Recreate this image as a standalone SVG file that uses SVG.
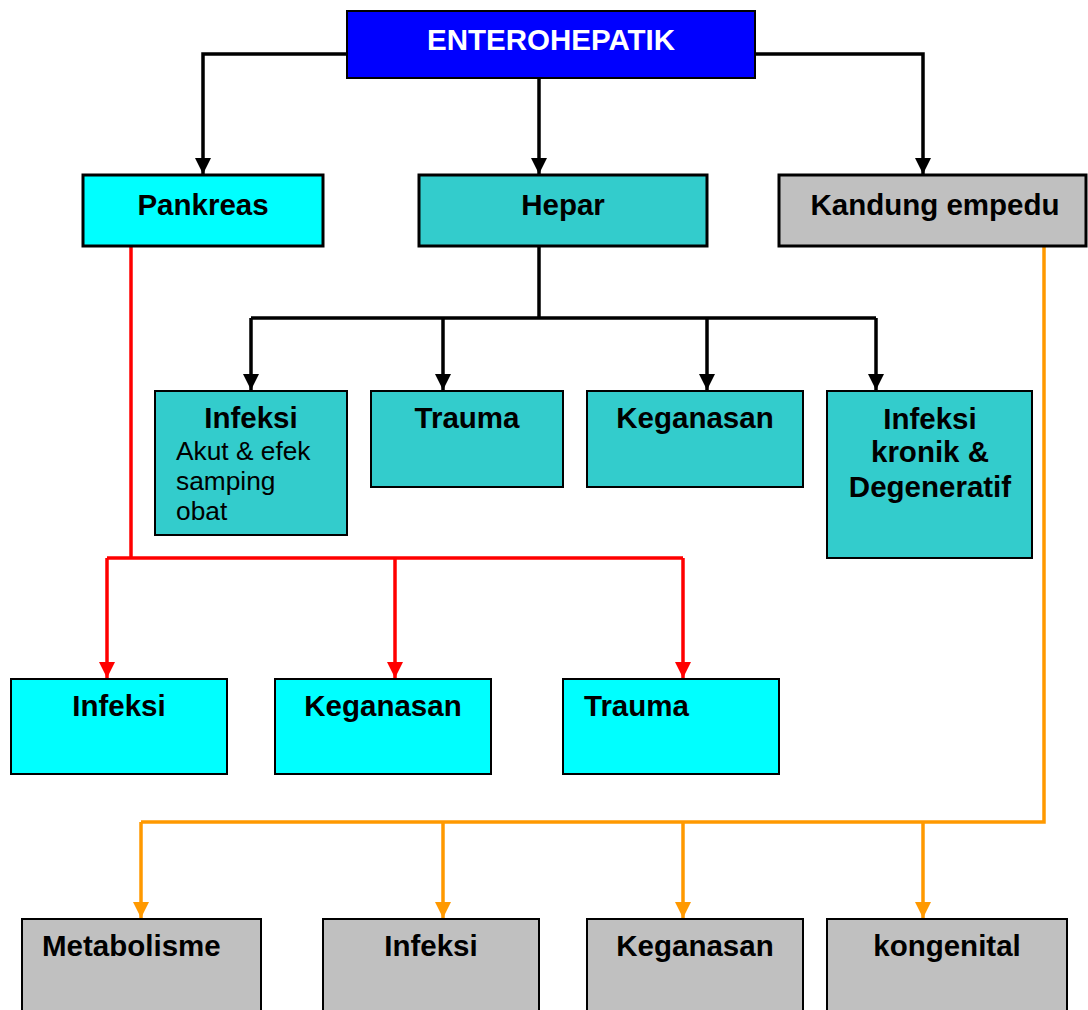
<svg xmlns="http://www.w3.org/2000/svg" width="1088" height="1010" viewBox="0 0 1088 1010">
<style>
.b{stroke:#000;stroke-width:2}
.bt{stroke:#000;stroke-width:3}
.blue{fill:#0000FF}.cyan{fill:#00FFFF}.teal{fill:#33CCCC}.gray{fill:#C0C0C0}
.t{font-family:"Liberation Sans",Arial,sans-serif;font-weight:bold;font-size:29.5px;fill:#000}
.r{font-family:"Liberation Sans",Arial,sans-serif;font-size:26.3px;fill:#000}
.k{stroke:#000;stroke-width:3.5;fill:none}
.rd{stroke:#FF0000;stroke-width:3.5;fill:none}
.o{stroke:#FF9900;stroke-width:3.5;fill:none}
</style>
<defs>
<marker id="ak" markerUnits="userSpaceOnUse" viewBox="0 0 16 16" refX="16" refY="8" markerWidth="16" markerHeight="16" orient="auto"><path d="M0,0 L16,8 L0,16 z" fill="#000"/></marker>
<marker id="ar" markerUnits="userSpaceOnUse" viewBox="0 0 16 16" refX="16" refY="8" markerWidth="16" markerHeight="16" orient="auto"><path d="M0,0 L16,8 L0,16 z" fill="#FF0000"/></marker>
<marker id="ao" markerUnits="userSpaceOnUse" viewBox="0 0 16 16" refX="16" refY="8" markerWidth="16" markerHeight="16" orient="auto"><path d="M0,0 L16,8 L0,16 z" fill="#FF9900"/></marker>
</defs>
<rect width="1088" height="1010" fill="#fff"/>
<g id="connectors">
<path class="k" d="M347,54 H203 V174" marker-end="url(#ak)"/>
<path class="k" d="M539,78 V174" marker-end="url(#ak)"/>
<path class="k" d="M755,54 H923 V174" marker-end="url(#ak)"/>
<path class="k" d="M539,246 V318"/>
<path class="k" d="M251,318 H876"/>
<path class="k" d="M251,318 V390" marker-end="url(#ak)"/>
<path class="k" d="M443,318 V390" marker-end="url(#ak)"/>
<path class="k" d="M707,318 V390" marker-end="url(#ak)"/>
<path class="k" d="M876,318 V390" marker-end="url(#ak)"/>
<path class="rd" d="M131,246 V558"/>
<path class="rd" d="M107,558 H683"/>
<path class="rd" d="M107,558 V678" marker-end="url(#ar)"/>
<path class="rd" d="M395,558 V678" marker-end="url(#ar)"/>
<path class="rd" d="M683,558 V678" marker-end="url(#ar)"/>
<path class="o" d="M1044,246 V822 H141"/>
<path class="o" d="M141,822 V918" marker-end="url(#ao)"/>
<path class="o" d="M443,822 V918" marker-end="url(#ao)"/>
<path class="o" d="M683,822 V918" marker-end="url(#ao)"/>
<path class="o" d="M923,822 V918" marker-end="url(#ao)"/>
</g>
<g id="enterohepatik"><rect class="blue b" x="347" y="11" width="408" height="67"/><text class="t" x="551" y="50" text-anchor="middle" style="fill:#fff">ENTEROHEPATIK</text></g>
<g id="pankreas"><rect class="cyan bt" x="83" y="175" width="240" height="71"/><text class="t" x="203" y="215" text-anchor="middle">Pankreas</text></g>
<g id="hepar"><rect class="teal bt" x="419" y="175" width="288" height="71"/><text class="t" x="563" y="215" text-anchor="middle">Hepar</text></g>
<g id="kandung"><rect class="gray bt" x="779" y="175" width="307" height="71"/><text class="t" x="935" y="215" text-anchor="middle">Kandung empedu</text></g>
<g id="h-infeksi"><rect class="teal b" x="155" y="391" width="192" height="144"/><text class="t" x="251" y="428" text-anchor="middle">Infeksi</text><text class="r" x="176" y="460">Akut &amp; efek</text><text class="r" x="176" y="490">samping</text><text class="r" x="176" y="520">obat</text></g>
<g id="h-trauma"><rect class="teal b" x="371" y="391" width="192" height="96"/><text class="t" x="467" y="428" text-anchor="middle">Trauma</text></g>
<g id="h-keganasan"><rect class="teal b" x="587" y="391" width="216" height="96"/><text class="t" x="695" y="428" text-anchor="middle">Keganasan</text></g>
<g id="h-kronik"><rect class="teal b" x="827" y="391" width="205" height="167"/><text class="t" x="930" y="429" text-anchor="middle">Infeksi</text><text class="t" x="930" y="462" text-anchor="middle">kronik &amp;</text><text class="t" x="930" y="497" text-anchor="middle">Degeneratif</text></g>
<g id="p-infeksi"><rect class="cyan b" x="11" y="679" width="216" height="95"/><text class="t" x="119" y="716" text-anchor="middle">Infeksi</text></g>
<g id="p-keganasan"><rect class="cyan b" x="275" y="679" width="216" height="95"/><text class="t" x="383" y="716" text-anchor="middle">Keganasan</text></g>
<g id="p-trauma"><rect class="cyan b" x="563" y="679" width="216" height="95"/><text class="t" x="584" y="716">Trauma</text></g>
<g id="k-metabolisme"><rect class="gray b" x="22" y="919" width="239" height="100"/><text class="t" x="42" y="956">Metabolisme</text></g>
<g id="k-infeksi"><rect class="gray b" x="323" y="919" width="216" height="100"/><text class="t" x="431" y="956" text-anchor="middle">Infeksi</text></g>
<g id="k-keganasan"><rect class="gray b" x="587" y="919" width="216" height="100"/><text class="t" x="695" y="956" text-anchor="middle">Keganasan</text></g>
<g id="k-kongenital"><rect class="gray b" x="827" y="919" width="240" height="100"/><text class="t" x="947" y="956" text-anchor="middle">kongenital</text></g>
</svg>
